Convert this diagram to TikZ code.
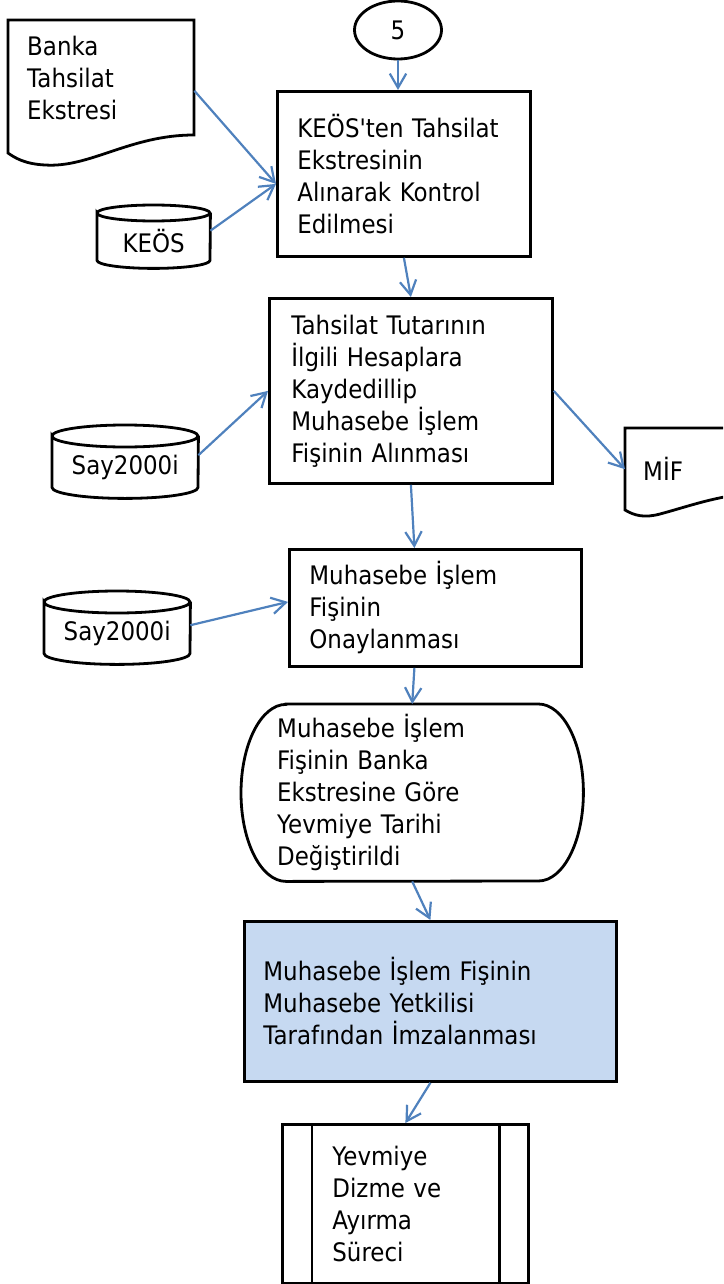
\documentclass[tikz,border=0pt]{standalone}
\usepackage{fontspec}
\setmainfont{DejaVu Sans}[Ligatures=TeXOff, FakeStretch=0.9]
\usepackage{xcolor}
\definecolor{flowblue}{HTML}{4F81BD}
\definecolor{fillblue}{HTML}{C6D9F1}
\usepackage{tikz}
\usetikzlibrary{arrows.meta, positioning, shapes.geometric}
\tikzset{
    outline/.style={
        draw=black,
        line width=2.8pt
    },
    proc/.style={
        rectangle, outline,
        inner sep=0pt,
        align=left,
        anchor=north west
    },
    docnode/.style={
        rectangle,
        inner sep=0pt,
        align=left,
        anchor=north west
    },
    dbnode/.style={
        rectangle,
        inner sep=0pt,
        anchor=north west
    },
    conn/.style={
        flowblue, line width=2.2pt,
        -{Straight Barb[angle=60:12pt 2]},
    },
}

\begin{document}
\begin{tikzpicture}[x=1pt, y=-1pt, font=\fontsize{25.5}{32}\selectfont]
        \useasboundingbox (0,0) rectangle (723,1284);
        \clip (0,0) rectangle (723,1284);

        \node[ellipse, outline, inner sep=0pt, minimum width=87, minimum height=58] (five) at (398,30) {5};
        \node[docnode, minimum width=186, minimum height=115, text width=148] (bank) at (8,20) {Banka\\Tahsilat\\Ekstresi};
        \node[proc, minimum width=253, minimum height=165, text width=213] (box1) at (276,90)
            {KEÖS'ten Tahsilat\\Ekstresinin\\Alınarak Kontrol\\Edilmesi};
        \node[dbnode, minimum width=113, minimum height=55] (keosdb) at (97,213) {KEÖS};
        \node[proc, minimum width=283, minimum height=185, text width=239] (box2) at (268,297)
            {Tahsilat Tutarının\\İlgili Hesaplara\\Kaydedillip\\Muhasebe İşlem\\Fişinin Alınması};
        \node[dbnode, minimum width=146, minimum height=62] (saydbA) at (52,436) {Say2000i};
        \node[docnode, minimum width=135, minimum height=82, text width=99] (mif) at (625,428) {MİF};
        \node[proc, minimum width=292, minimum height=117, text width=252] (box3) at (288,548)
            {Muhasebe İşlem\\Fişinin\\Onaylanması};
        \node[dbnode, minimum width=146, minimum height=62] (saydbB) at (44,602) {Say2000i};
        \node[docnode, minimum width=342, minimum height=177, text width=270] (term) at (241,704)
            {Muhasebe İşlem\\Fişinin Banka\\Ekstresine Göre\\Yevmiye Tarihi\\Değiştirildi};
        \node[proc, fill=fillblue, minimum width=372, minimum height=160, text width=334] (imza) at (243,920)
            {Muhasebe İşlem Fişinin\\Muhasebe Yetkilisi\\Tarafından İmzalanması};
        \node[proc, minimum width=246, minimum height=159, text width=146] (sub) at (281,1123)
            {Yevmiye\\Dizme ve\\Ayırma\\Süreci};

        % document shapes
        \draw[outline] (8,153) -- (8,20) -- (194,20) -- (194,135)
            .. controls (130,135) and (90,168) .. (45,165) .. controls (25,164) and (15,158) .. cycle;
        \draw[outline] (760,428) -- (625,428) -- (625,510)
            .. controls (635,516) and (645,518) .. (660,514) .. controls (690,506) and (715,496) .. (760,492);

        % data stores
        \foreach \n/\rx/\ry in {keosdb/56.5/8, saydbA/73/11, saydbB/73/11}
            \draw[outline] (\n.north west) arc[start angle=180, end angle=-180, x radius=\rx pt, y radius=\ry pt]
                -- ([yshift=\ry pt]\n.south west) arc[start angle=180, end angle=360, x radius=\rx pt, y radius=\ry pt]
                -- (\n.north east);

        % terminator and predefined process
        \draw[outline] ([xshift=45pt]term.north west) -- ([xshift=-45pt]term.north east)
            arc[start angle=90, end angle=-90, x radius=45pt, y radius=88.5pt]
            -- ([xshift=45pt]term.south west)
            arc[start angle=270, end angle=90, x radius=45pt, y radius=88.5pt] -- cycle;
        \draw[outline] ([xshift=31pt]sub.north west) -- ([xshift=31pt]sub.south west)
            ([xshift=-30pt]sub.north east) -- ([xshift=-30pt]sub.south east);

        % connectors
        \draw[conn] (five.south) -- (five.south |- box1.north);
        \draw[conn] (bank.352) -- ([yshift=-10pt]box1.west);
        \draw[conn] ([yshift=10pt]keosdb.east) -- ([yshift=-10pt]box1.west);
        \draw[conn] ([yshift=12pt]saydbA.east) -- (box2.west);
        \draw[conn] (box2.east) -- (mif.west);
        \draw[conn] (box2.south) -- ([xshift=-21pt]box3.north);
        \draw[conn] ([yshift=8pt]saydbB.east) -- ([yshift=6pt]box3.west);
        \draw[conn] ([xshift=-21pt]box3.south) -- (term.north);
        \foreach \a/\b in {box1.south/box2.north, term.south/imza.north, imza.south/sub.north}
            \draw[conn] (\a) -- (\b);
\end{tikzpicture}
\end{document}
